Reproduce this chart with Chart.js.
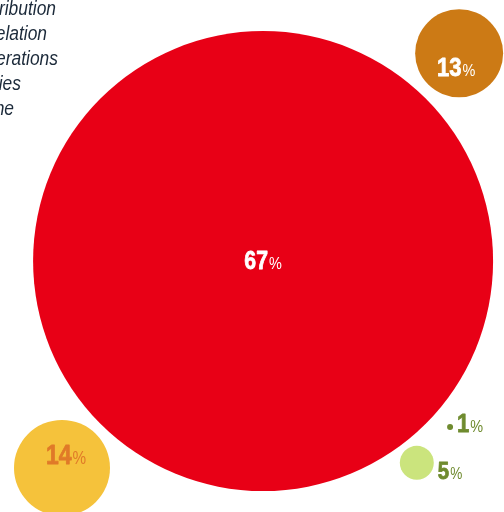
<!DOCTYPE html>
<html>
<head>
<meta charset="utf-8">
<script src="https://cdn.jsdelivr.net/npm/chart.js@4"></script>
<style>
  html, body { margin: 0; padding: 0; background: #fff; overflow: hidden; }
  #wrap { width: 504px; height: 512px; }
</style>
</head>
<body>
<div id="wrap"><canvas id="bubbleChart" width="504" height="512"></canvas></div>
<script>
// shares and where each bubble sits (axis units 0-100)
const shareLabels = ['67', '13', '14', '5', '.1'];
const bubbleX = [52.2, 91.1, 12.3, 82.7, 89.3];
const bubbleY = [49.0, 89.6, 8.6, 9.6, 16.6];
const bubbleR = [230, 44, 48, 17, 3];
const legendItems = ['Distribution', 'Correlation', 'Operations', 'Subsidiaries', 'Online'];

const bubbleColors = ['#e80016', '#cc7a15', '#f5c23b', '#cbe47d', '#6f8b2f'];
const FONT = "'Liberation Sans', Arial, sans-serif";
const SQUEEZE = 0.85; // fake a condensed face

// label placement relative to each bubble centre (px)
const labelStyle = [
    { dx: 0, dy: 8, size: 25, color: '#ffffff', align: 'center' },
    { dx: -3, dy: 23, size: 26, color: '#ffffff', align: 'center' },
    { dx: 4, dy: -4, size: 27, color: '#e07a28', align: 'center' },
    { dx: 4, dy: 16, size: 24, color: '#6f8b2f', align: 'left' },
    { dx: 4, dy: 5, size: 26, color: '#6f8b2f', align: 'left', skipDot: true }
];

const legendRight = [56, 47, 58, 21, 14];

function squeezedText(ctx, txt, x, y, sx, stroke) {
    ctx.save();
    ctx.translate(x, y);
    ctx.scale(sx || SQUEEZE, 1);
    ctx.fillText(txt, 0, 0);
    if (stroke) ctx.strokeText(txt, 0, 0);
    ctx.restore();
}

const overlayPlugin = {
    id: 'overlay',
    beforeDatasetsDraw(chart) {
        const ctx = chart.ctx;
        ctx.save();
        ctx.font = "italic 20px " + FONT;
        ctx.fillStyle = '#1c2a3a';
        ctx.textAlign = 'right';
        ctx.textBaseline = 'alphabetic';
        legendItems.forEach((txt, i) => {
            squeezedText(ctx, txt, legendRight[i], 14.5 + i * 25.2, 0.87);
        });
        ctx.restore();
    },
    afterDatasetsDraw(chart) {
        const ctx = chart.ctx;
        const meta = chart.getDatasetMeta(0);
        ctx.save();
        ctx.textBaseline = 'alphabetic';
        ctx.textAlign = 'left';
        ctx.lineWidth = 0.8;
        ctx.lineJoin = 'round';
        meta.data.forEach((pt, i) => {
            const s = labelStyle[i];
            let num = shareLabels[i];
            if (s.skipDot) num = num.replace('.', '');
            const numFont = 'bold ' + s.size + 'px ' + FONT;
            const pctFont = Math.round(s.size * 0.66) + 'px ' + FONT;
            ctx.font = numFont;
            const wNum = ctx.measureText(num).width * SQUEEZE;
            ctx.font = pctFont;
            const wPct = ctx.measureText('%').width * SQUEEZE;
            let x = pt.x + s.dx;
            if (s.align === 'center') x -= (wNum + wPct + 1) / 2;
            else x += pt.options.radius;
            const y = pt.y + s.dy;
            ctx.fillStyle = s.color;
            ctx.strokeStyle = s.color;
            ctx.font = numFont;
            squeezedText(ctx, num, x, y, SQUEEZE, true);
            ctx.font = pctFont;
            squeezedText(ctx, '%', x + wNum + 1, y);
        });
        ctx.restore();
    }
};

const ctx = document.getElementById('bubbleChart').getContext('2d');
new Chart(ctx, {
    type: 'bubble',
    data: {
        datasets: [{
            data: bubbleX.map((x, i) => ({ x: x, y: bubbleY[i], r: bubbleR[i] })),
            backgroundColor: bubbleColors,
            borderWidth: 0,
            hoverRadius: 0,
            clip: false
        }]
    },
    options: {
        responsive: false,
        animation: false,
        events: [],
        layout: { padding: 0, autoPadding: false },
        scales: {
            x: { display: false, min: 0, max: 100 },
            y: { display: false, min: 0, max: 100 }
        },
        plugins: {
            legend: { display: false },
            tooltip: { enabled: false }
        }
    },
    plugins: [overlayPlugin]
});
</script>
</body>
</html>
